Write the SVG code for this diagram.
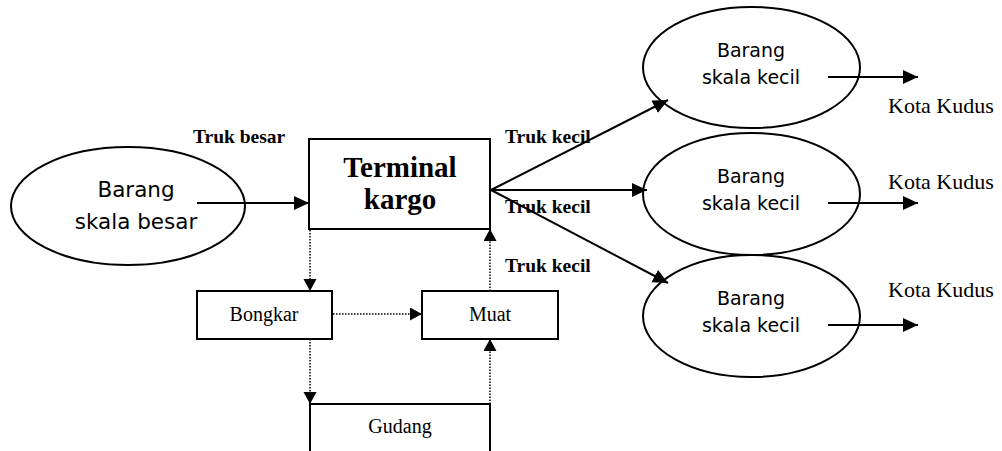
<svg xmlns="http://www.w3.org/2000/svg" width="1002" height="451" viewBox="0 0 1002 451">
<style>
.bg{fill:#fff}
.shape{fill:#fff;stroke:#000;stroke-width:2}
.line{fill:none;stroke:#000;stroke-width:2}
.dot{fill:none;stroke:#000;stroke-width:1.5;stroke-dasharray:1.5 1.5}
.sans{font-family:"DejaVu Sans",Verdana,sans-serif;fill:#000;text-anchor:middle}
.serif{font-family:"Liberation Serif","Times New Roman",serif;fill:#000}
.bold{font-weight:bold}
.mid{text-anchor:middle}
</style>
<defs>
<marker id="ah" markerUnits="userSpaceOnUse" markerWidth="16" markerHeight="16" refX="15" refY="7" orient="auto">
<path d="M0,0 L15,7 L0,14 Z" fill="#000"/>
</marker>
<marker id="ahs" markerUnits="userSpaceOnUse" markerWidth="14" markerHeight="14" refX="12" refY="6.5" orient="auto">
<path d="M0,0 L12,6.5 L0,13 Z" fill="#000"/>
</marker>
</defs>
<rect class="bg" x="0" y="0" width="1002" height="451"/>

<g id="barang-besar">
<ellipse class="shape" cx="128" cy="206" rx="117" ry="59"/>
<text class="sans" x="136" y="197" font-size="21.5">Barang</text>
<text class="sans" x="136" y="229" font-size="21.5">skala besar</text>
</g>

<g id="terminal">
<rect class="shape" x="309" y="139" width="181" height="90"/>
<text class="serif bold mid" x="400" y="177" font-size="29">Terminal</text>
<text class="serif bold mid" x="400" y="209" font-size="29">kargo</text>
</g>

<g id="bongkar">
<rect class="shape" x="197" y="291" width="135" height="48"/>
<text class="serif mid" x="264" y="321" font-size="20">Bongkar</text>
</g>

<g id="muat">
<rect class="shape" x="422" y="291" width="136" height="48"/>
<text class="serif mid" x="490" y="321" font-size="20">Muat</text>
</g>

<g id="gudang">
<path class="line" d="M310,452 L310,404 L490,404 L490,452"/>
<text class="serif mid" x="400" y="433" font-size="20">Gudang</text>
</g>

<g id="barang-kecil-1">
<ellipse class="shape" cx="751.5" cy="67.5" rx="108.5" ry="60.5"/>
<text class="sans" x="751" y="57" font-size="19">Barang</text>
<text class="sans" x="751" y="84" font-size="19">skala kecil</text>
</g>

<g id="barang-kecil-2">
<ellipse class="shape" cx="751.5" cy="194" rx="108.5" ry="61"/>
<text class="sans" x="751" y="183" font-size="19">Barang</text>
<text class="sans" x="751" y="210" font-size="19">skala kecil</text>
</g>

<g id="barang-kecil-3">
<ellipse class="shape" cx="751.5" cy="316" rx="108.5" ry="61"/>
<text class="sans" x="751" y="305" font-size="19">Barang</text>
<text class="sans" x="751" y="332" font-size="19">skala kecil</text>
</g>

<g id="connectors">
<line class="line" x1="197" y1="203" x2="309" y2="203" marker-end="url(#ah)"/>
<line class="line" x1="491" y1="190" x2="668" y2="100" marker-end="url(#ah)"/>
<line class="line" x1="491" y1="190" x2="647" y2="190" marker-end="url(#ah)"/>
<line class="line" x1="491" y1="190" x2="668" y2="283" marker-end="url(#ah)"/>
<line class="line" x1="828" y1="77" x2="918" y2="77" marker-end="url(#ah)"/>
<line class="line" x1="828" y1="203" x2="918" y2="203" marker-end="url(#ah)"/>
<line class="line" x1="828" y1="325" x2="918" y2="325" marker-end="url(#ah)"/>
<line class="dot" x1="310" y1="230" x2="310" y2="291" marker-end="url(#ahs)"/>
<line class="dot" x1="333" y1="314" x2="422" y2="314" marker-end="url(#ahs)"/>
<line class="dot" x1="490" y1="291" x2="490" y2="229" marker-end="url(#ahs)"/>
<line class="dot" x1="310" y1="339" x2="310" y2="404" marker-end="url(#ahs)"/>
<line class="dot" x1="490" y1="404" x2="490" y2="339" marker-end="url(#ahs)"/>
</g>

<g id="labels">
<text class="serif bold" x="193" y="143" font-size="19.5">Truk besar</text>
<text class="serif bold" x="505" y="143" font-size="19.5">Truk kecil</text>
<text class="serif bold" x="505" y="213" font-size="19.5">Truk kecil</text>
<text class="serif bold" x="505" y="272" font-size="19.5">Truk kecil</text>
<text class="serif" x="888" y="113" font-size="22">Kota Kudus</text>
<text class="serif" x="888" y="189" font-size="22">Kota Kudus</text>
<text class="serif" x="888" y="297" font-size="22">Kota Kudus</text>
</g>
</svg>
